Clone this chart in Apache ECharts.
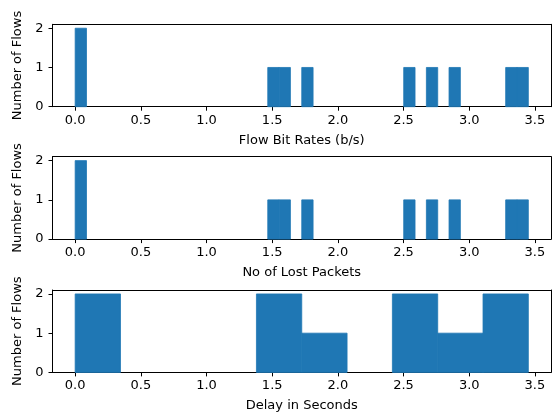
<!DOCTYPE html>
<html>
<head>
<meta charset="utf-8">
<script src="https://cdn.jsdelivr.net/npm/echarts@6/dist/echarts.min.js"></script>
<style>
html,body{margin:0;padding:0;background:#fff;}
#chart{width:557px;height:417px;}
</style>
</head>
<body>
<div id="chart"></div>
<script>
// Histogram data
const dataMin = 0;
const dataMax = 3.45;
// 40-bin histograms (top two panels)
const flowBitRateCounts = [2,0,0,0,0,0,0,0,0,0, 0,0,0,0,0,0,0,1,1,0, 1,0,0,0,0,0,0,0,0,1, 0,1,0,1,0,0,0,0,1,1];
const lostPacketCounts  = [2,0,0,0,0,0,0,0,0,0, 0,0,0,0,0,0,0,1,1,0, 1,0,0,0,0,0,0,0,0,1, 0,1,0,1,0,0,0,0,1,1];
// 10-bin histogram (bottom panel)
const delayCounts = [2,0,0,0,2,1,0,2,1,2];
const xTicks = [0, 0.5, 1.0, 1.5, 2.0, 2.5, 3.0, 3.5];
const yTicks = [0, 1, 2];
const xLabels = ['Flow Bit Rates (b/s)', 'No of Lost Packets', 'Delay in Seconds'];
const yLabel = 'Number of Flows';

function toBins(counts) {
  const n = counts.length, w = (dataMax - dataMin) / n;
  const out = [];
  counts.forEach((c, i) => { if (c > 0) out.push([dataMin + i * w, dataMin + (i + 1) * w, c]); });
  return out;
}
const panels = [flowBitRateCounts, lostPacketCounts, delayCounts];

const margin = (dataMax - dataMin) * 0.05;
const font = {fontFamily: 'DejaVu Sans', fontSize: 13, color: '#000'};
const tops = [24.3, 156.7, 290];
const grids = tops.map(t => ({left: 52.5, right: 6, top: t, height: 82.4}));
const spine = {show: true, onZero: false, lineStyle: {color: '#000', width: 1}};

const xAxes = [], yAxes = [];
panels.forEach((_, i) => {
  xAxes.push({
    type: 'value', gridIndex: i, position: 'bottom', min: -margin, max: dataMax + margin,
    name: xLabels[i], nameLocation: 'middle', nameGap: 27, nameTextStyle: font,
    axisLine: spine, splitLine: {show: false},
    axisTick: {show: true, length: 4, lineStyle: {color: '#000', width: 1}, customValues: xTicks},
    axisLabel: Object.assign({margin: 7, customValues: xTicks, formatter: v => v.toFixed(1)}, font)
  });
  xAxes.push({
    type: 'value', gridIndex: i, position: 'top', min: -margin, max: dataMax + margin,
    axisLine: spine, splitLine: {show: false}, axisTick: {show: false}, axisLabel: {show: false}
  });
  yAxes.push({
    type: 'value', gridIndex: i, position: 'left', min: 0, max: 2.1,
    name: yLabel, nameLocation: 'middle', nameGap: 22, nameTextStyle: font,
    axisLine: spine, splitLine: {show: false},
    axisTick: {show: true, length: 4, lineStyle: {color: '#000', width: 1}, customValues: yTicks},
    axisLabel: Object.assign({margin: 9, customValues: yTicks, formatter: v => String(v)}, font)
  });
  yAxes.push({
    type: 'value', gridIndex: i, position: 'right', min: 0, max: 2.1,
    axisLine: spine, splitLine: {show: false}, axisTick: {show: false}, axisLabel: {show: false}
  });
});

const series = panels.map((counts, i) => ({
  type: 'custom', xAxisIndex: 2 * i, yAxisIndex: 2 * i,
  data: toBins(counts),
  encode: {x: [0, 1], y: 2},
  renderItem: function (params, api) {
    const p0 = api.coord([api.value(0), 0]);
    const p1 = api.coord([api.value(1), api.value(2)]);
    return {type: 'rect', shape: {x: p0[0], y: p1[1], width: p1[0] - p0[0], height: p0[1] - p1[1]},
            style: {fill: '#1f77b4', stroke: '#1f77b4', lineWidth: 0.8}};
  }
}));

const chart = echarts.init(document.getElementById('chart'), null, {renderer: 'canvas'});
chart.setOption({animation: false, backgroundColor: '#fff', grid: grids, xAxis: xAxes, yAxis: yAxes, series: series});
</script>
</body>
</html>
